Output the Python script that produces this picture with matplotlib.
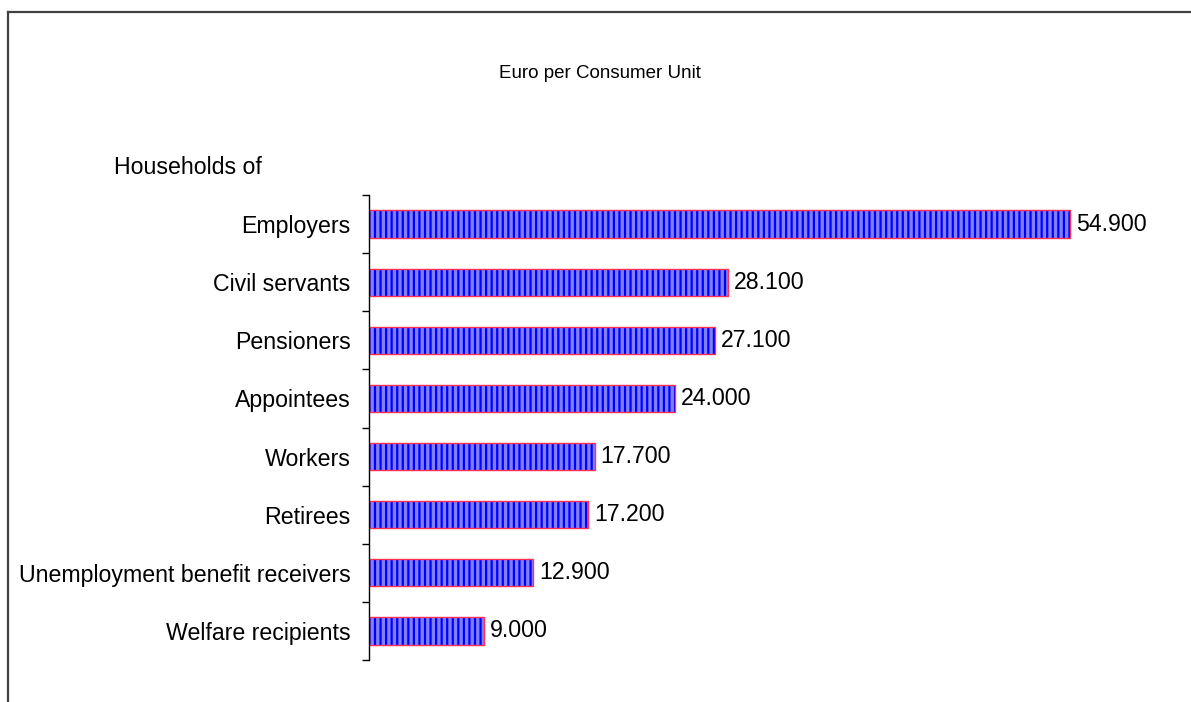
import matplotlib
matplotlib.use('Agg')
import matplotlib.pyplot as plt
import numpy as np

# data
categories = ['Employers', 'Civil servants', 'Pensioners', 'Appointees',
              'Workers', 'Retirees', 'Unemployment benefit receivers',
              'Welfare recipients']
values = [54.9, 28.1, 27.1, 24.0, 17.7, 17.2, 12.9, 9.0]
value_labels = ['54.900', '28.100', '27.100', '24.000', '17.700', '17.200',
                '12.900', '9.000']

plt.rcParams['font.family'] = ['Liberation Sans', 'DejaVu Sans']
plt.rcParams['hatch.linewidth'] = 1.6

fig = plt.figure(figsize=(11.91, 7.02), dpi=100)
W, H = 1191., 702.
fs = 16.7

# outer frame (top and left visible)
fig.add_artist(plt.Line2D([7.5/W, 1.0], [1-11.5/H, 1-11.5/H], color='#404040', lw=1.6))
fig.add_artist(plt.Line2D([7.5/W, 7.5/W], [0.0, 1-11.5/H], color='#404040', lw=1.6))

x0, x1 = 368.5, 1100.
y_top, y_bot = 195., 660.
ax = fig.add_axes([x0/W, 1-y_bot/H, (x1-x0)/W, (y_bot-y_top)/H])

n = len(categories)
ypos = np.arange(n)
ax.barh(ypos, values, height=0.47, color='#8080ff', edgecolor='blue',
        linewidth=0, hatch='|||')
ax.barh(ypos, values, height=0.47, fill=False, edgecolor='#ff3050', linewidth=1.0)

scale = 54.9 / (1070 - x0)
ax.set_xlim(0, (x1 - x0) * scale)
ax.set_ylim(n - 0.5, -0.5)

for y, v, lab in zip(ypos, values, value_labels):
    ax.text(v + 6*scale, y, lab, va='center', ha='left', fontsize=fs, clip_on=False)

for s in ['top', 'right', 'bottom']:
    ax.spines[s].set_visible(False)
ax.spines['left'].set_linewidth(1.0)
ax.xaxis.set_visible(False)

ax.set_yticks(ypos)
ax.set_yticklabels(categories, fontsize=fs)
ax.tick_params(axis='y', which='major', length=0, pad=13)
ax.set_yticks(np.arange(n + 1) - 0.5, minor=True)
ax.tick_params(axis='y', which='minor', length=5, width=1.0, direction='out')

fig.text(114/W, 1-168/H, 'Households of', fontsize=fs, ha='left', va='center')
fig.text(600/W, 1-74/H, 'Euro per Consumer Unit', fontsize=13.5, ha='center', va='center')

fig.savefig('out.png', dpi=100)
